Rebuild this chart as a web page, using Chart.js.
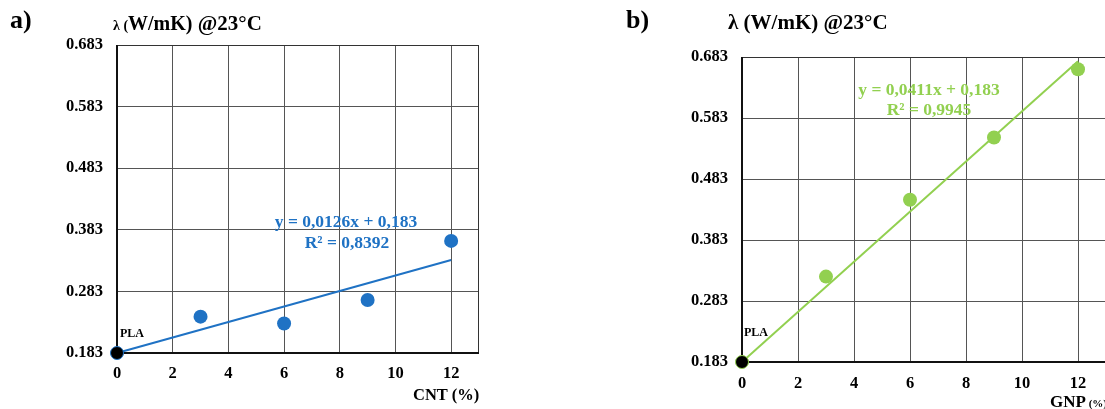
<!DOCTYPE html>
<html>
<head>
<meta charset="utf-8">
<script src="https://cdn.jsdelivr.net/npm/chart.js@4.4.0/dist/chart.umd.min.js"></script>
<style>
  html, body { margin:0; padding:0; width:1105px; height:409px; overflow:hidden; background:#fff; }
  canvas { position:absolute; top:0; }
  .t { position:absolute; font-family:"Liberation Serif", "Times New Roman", serif; font-weight:bold; white-space:nowrap; }
</style>
</head>
<body>
<canvas id="ca" width="550" height="409" style="left:0px"></canvas>
<canvas id="cb" width="560" height="409" style="left:560px"></canvas>

<div class="t" style="left:10px;top:7px;font-size:26px;line-height:26px;color:#000">a)</div>
<div class="t" style="left:113px;top:13px;line-height:21px;color:#000"><span style="font-size:14px">λ (</span><span style="font-size:20px">W/mK)</span><span style="font-size:21px"> @23°C</span></div>
<div class="t" style="left:626px;top:7px;font-size:26px;line-height:26px;color:#000">b)</div>
<div class="t" style="left:728px;top:12px;font-size:21px;line-height:21px;color:#000">λ (W/mK) @23°C</div>

<div class="t" style="left:120px;top:327px;font-size:12px;line-height:12px;color:#000">PLA</div>
<div class="t" style="left:744px;top:326px;font-size:12px;line-height:12px;color:#000">PLA</div>

<div class="t" id="eqA1" style="left:346px;top:213px;font-size:17.5px;line-height:17.5px;color:#1F72C4;transform:translateX(-50%)"></div>
<div class="t" id="eqA2" style="left:347px;top:234px;font-size:17.5px;line-height:17.5px;color:#1F72C4;transform:translateX(-50%)"></div>
<div class="t" id="eqB1" style="left:929px;top:81px;font-size:17.5px;line-height:17.5px;color:#92D050;transform:translateX(-50%)"></div>
<div class="t" id="eqB2" style="left:929px;top:101px;font-size:17.5px;line-height:17.5px;color:#92D050;transform:translateX(-50%)"></div>

<div class="t" style="left:413px;top:386px;font-size:16.5px;line-height:17px;color:#000">CNT (%)</div>
<div class="t" style="left:1050px;top:393px;line-height:17px;color:#000"><span style="font-size:17px">GNP</span><span style="font-size:11px"> (%)</span></div>

<script>
// ---- data ----
const xValues = [3, 6, 9, 12];
const cntValues = [0.242, 0.231, 0.269, 0.365];
const gnpValues = [0.323, 0.449, 0.551, 0.663];
const plaX = [0];
const plaY = [0.183];
const trendX = [0, 12];
const cntTrendY = [0.183, 0.334];
const gnpTrendY = [0.183, 0.676];
const yTicks = [0.183, 0.283, 0.383, 0.483, 0.583, 0.683];
const xTicks = [0, 2, 4, 6, 8, 10, 12];
const cntEquation = ["y = 0,0126x + 0,183", "R² = 0,8392"];
const gnpEquation = ["y = 0,0411x + 0,183", "R² = 0,9945"];

document.getElementById('eqA1').textContent = cntEquation[0];
document.getElementById('eqA2').textContent = cntEquation[1];
document.getElementById('eqB1').textContent = gnpEquation[0];
document.getElementById('eqB2').textContent = gnpEquation[1];

const pts = (xs, ys) => xs.map((x, i) => ({x: x, y: ys[i]}));

const frame = {
  id: 'frame',
  beforeDatasetsDraw(chart) {
    const a = chart.chartArea, c = chart.ctx;
    c.save();
    c.strokeStyle = '#333';
    c.lineWidth = 1;
    c.beginPath();
    c.moveTo(a.left, a.top + 0.5); c.lineTo(a.right, a.top + 0.5);
    c.moveTo(a.right - 0.5, a.top); c.lineTo(a.right - 0.5, a.bottom);
    c.stroke();
    c.strokeStyle = '#111';
    c.lineWidth = 2;
    c.beginPath();
    c.moveTo(a.left, a.top); c.lineTo(a.left, a.bottom);
    c.lineTo(a.right, a.bottom);
    c.stroke();
    c.restore();
  }
};

function makeChart(id, color, values, trendY, pad, yW, xH, xPad) {
  const font = { family: 'Liberation Serif', weight: 'bold', size: 16.5 };
  return new Chart(document.getElementById(id), {
    type: 'scatter',
    data: {
      datasets: [
        { data: pts(plaX, plaY), clip: false, pointRadius: 6.5, backgroundColor: '#000', borderColor: color, borderWidth: 1, pointHoverRadius: 6.5 },
        { data: pts(xValues, values), clip: false, pointRadius: 7, backgroundColor: color, borderColor: color, borderWidth: 0, pointHoverRadius: 7 },
        { type: 'line', data: pts(trendX, trendY), clip: false, borderColor: color, borderWidth: 2, pointRadius: 0, fill: false, tension: 0 }
      ]
    },
    options: {
      responsive: false,
      animation: false,
      events: [],
      layout: { padding: pad },
      plugins: { legend: { display: false }, tooltip: { enabled: false } },
      scales: {
        x: {
          type: 'linear', min: 0, max: 13,
          afterBuildTicks: s => { s.ticks = xTicks.map(v => ({ value: v })); },
          afterFit: s => { s.height = xH; },
          grid: { color: '#555', lineWidth: 1, drawTicks: false },
          border: { display: false },
          ticks: { font: font, color: '#000', padding: xPad, maxRotation: 0, callback: v => String(v) }
        },
        y: {
          type: 'linear', min: 0.183, max: 0.683,
          afterBuildTicks: s => { s.ticks = yTicks.map(v => ({ value: v })); },
          afterFit: s => { s.width = yW; },
          grid: { color: '#555', lineWidth: 1, drawTicks: false },
          border: { display: false },
          ticks: { font: font, color: '#000', padding: 14, callback: v => Number(v).toFixed(3) }
        }
      }
    },
    plugins: [frame]
  });
}

makeChart('ca', '#1F72C4', cntValues, cntTrendY, { left: 0, top: 45, right: 71, bottom: 0 }, 117, 56, 11);
makeChart('cb', '#92D050', gnpValues, gnpTrendY, { left: 0, top: 57, right: 14, bottom: 0 }, 182, 47, 12);
</script>
</body>
</html>
